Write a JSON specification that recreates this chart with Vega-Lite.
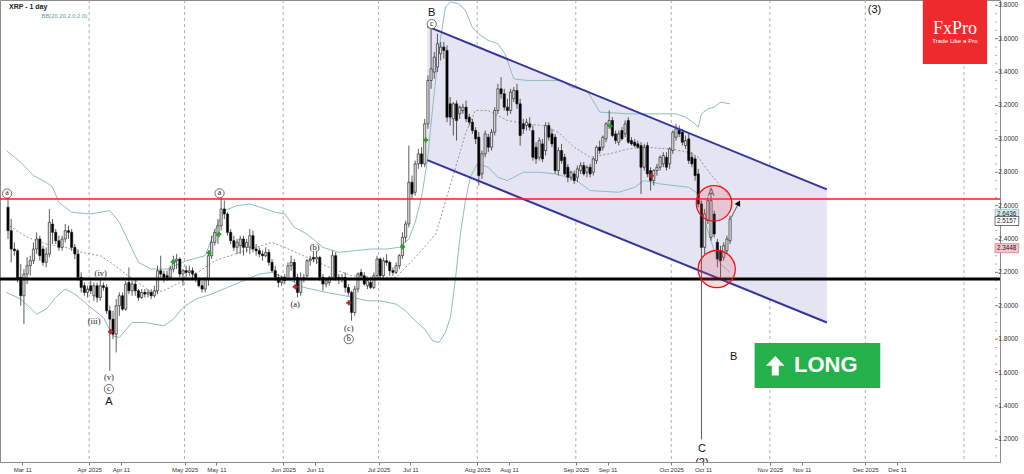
{
"$schema":"https://vega.github.io/schema/vega-lite/v6.json",
"width":1000,"height":462,
"autosize":{"type":"none"},
"padding":{"left":0,"top":0,"right":24,"bottom":12},
"background":"#ffffff",
"config":{"font":"Liberation Sans","view":{"stroke":"#8c8c8c","strokeWidth":1}},
"datasets":{
"k":[
{"d":"2025-03-06T12:00","o":2.59,"h":2.66,"l":2.40,"c":2.45},
{"d":"2025-03-07T12:00","o":2.45,"h":2.52,"l":2.26,"c":2.34},
{"d":"2025-03-08T12:00","o":2.34,"h":2.38,"l":2.30,"c":2.33},
{"d":"2025-03-09T12:00","o":2.33,"h":2.34,"l":2.14,"c":2.16},
{"d":"2025-03-10T12:00","o":2.17,"h":2.25,"l":2.00,"c":2.06},
{"d":"2025-03-11T12:00","o":2.06,"h":2.22,"l":1.89,"c":2.19},
{"d":"2025-03-12T12:00","o":2.19,"h":2.29,"l":2.13,"c":2.24},
{"d":"2025-03-13T12:00","o":2.24,"h":2.30,"l":2.18,"c":2.27},
{"d":"2025-03-14T12:00","o":2.27,"h":2.38,"l":2.25,"c":2.34},
{"d":"2025-03-15T12:00","o":2.34,"h":2.44,"l":2.31,"c":2.40},
{"d":"2025-03-16T12:00","o":2.40,"h":2.42,"l":2.27,"c":2.30},
{"d":"2025-03-17T12:00","o":2.34,"h":2.36,"l":2.24,"c":2.26},
{"d":"2025-03-18T12:00","o":2.26,"h":2.35,"l":2.23,"c":2.31},
{"d":"2025-03-19T12:00","o":2.31,"h":2.58,"l":2.29,"c":2.50},
{"d":"2025-03-20T12:00","o":2.49,"h":2.52,"l":2.37,"c":2.44},
{"d":"2025-03-21T12:00","o":2.44,"h":2.46,"l":2.37,"c":2.39},
{"d":"2025-03-22T12:00","o":2.39,"h":2.42,"l":2.33,"c":2.35},
{"d":"2025-03-23T12:00","o":2.35,"h":2.42,"l":2.33,"c":2.40},
{"d":"2025-03-24T12:00","o":2.40,"h":2.49,"l":2.38,"c":2.45},
{"d":"2025-03-25T12:00","o":2.45,"h":2.48,"l":2.40,"c":2.44},
{"d":"2025-03-26T12:00","o":2.44,"h":2.46,"l":2.33,"c":2.35},
{"d":"2025-03-27T12:00","o":2.35,"h":2.37,"l":2.28,"c":2.31},
{"d":"2025-03-28T12:00","o":2.31,"h":2.34,"l":2.15,"c":2.17},
{"d":"2025-03-29T12:00","o":2.17,"h":2.20,"l":2.08,"c":2.11},
{"d":"2025-03-30T12:00","o":2.12,"h":2.14,"l":2.06,"c":2.08},
{"d":"2025-03-31T12:00","o":2.08,"h":2.12,"l":2.05,"c":2.10},
{"d":"2025-04-01T12:00","o":2.12,"h":2.15,"l":2.07,"c":2.09},
{"d":"2025-04-02T12:00","o":2.06,"h":2.14,"l":2.03,"c":2.12},
{"d":"2025-04-03T12:00","o":2.12,"h":2.14,"l":2.02,"c":2.05},
{"d":"2025-04-04T12:00","o":2.05,"h":2.16,"l":2.03,"c":2.12},
{"d":"2025-04-05T12:00","o":2.12,"h":2.14,"l":2.09,"c":2.11},
{"d":"2025-04-06T12:00","o":2.11,"h":2.13,"l":1.95,"c":1.97},
{"d":"2025-04-07T12:00","o":1.97,"h":2.00,"l":1.61,"c":1.92},
{"d":"2025-04-08T12:00","o":1.92,"h":1.97,"l":1.80,"c":1.83},
{"d":"2025-04-09T12:00","o":1.83,"h":2.04,"l":1.72,"c":2.00},
{"d":"2025-04-10T12:00","o":2.00,"h":2.08,"l":1.94,"c":2.06},
{"d":"2025-04-11T12:00","o":2.06,"h":2.08,"l":1.97,"c":1.98},
{"d":"2025-04-12T12:00","o":1.98,"h":2.15,"l":1.97,"c":2.13},
{"d":"2025-04-13T12:00","o":2.14,"h":2.23,"l":2.07,"c":2.09},
{"d":"2025-04-14T12:00","o":2.09,"h":2.15,"l":2.06,"c":2.13},
{"d":"2025-04-15T12:00","o":2.13,"h":2.16,"l":2.06,"c":2.09},
{"d":"2025-04-16T12:00","o":2.09,"h":2.10,"l":2.03,"c":2.05},
{"d":"2025-04-17T12:00","o":2.05,"h":2.10,"l":2.04,"c":2.08},
{"d":"2025-04-18T12:00","o":2.08,"h":2.10,"l":2.05,"c":2.07},
{"d":"2025-04-19T12:00","o":2.07,"h":2.10,"l":2.05,"c":2.08},
{"d":"2025-04-20T12:00","o":2.08,"h":2.10,"l":2.04,"c":2.06},
{"d":"2025-04-21T12:00","o":2.06,"h":2.12,"l":2.05,"c":2.09},
{"d":"2025-04-22T12:00","o":2.09,"h":2.24,"l":2.07,"c":2.21},
{"d":"2025-04-23T12:00","o":2.21,"h":2.30,"l":2.17,"c":2.19},
{"d":"2025-04-24T12:00","o":2.19,"h":2.21,"l":2.14,"c":2.17},
{"d":"2025-04-25T12:00","o":2.18,"h":2.21,"l":2.15,"c":2.17},
{"d":"2025-04-26T12:00","o":2.17,"h":2.24,"l":2.16,"c":2.22},
{"d":"2025-04-27T12:00","o":2.22,"h":2.30,"l":2.20,"c":2.27},
{"d":"2025-04-28T12:00","o":2.27,"h":2.31,"l":2.22,"c":2.28},
{"d":"2025-04-29T12:00","o":2.28,"h":2.29,"l":2.17,"c":2.19},
{"d":"2025-04-30T12:00","o":2.19,"h":2.22,"l":2.12,"c":2.21},
{"d":"2025-05-01T12:00","o":2.21,"h":2.24,"l":2.17,"c":2.20},
{"d":"2025-05-02T12:00","o":2.20,"h":2.24,"l":2.18,"c":2.21},
{"d":"2025-05-03T12:00","o":2.21,"h":2.23,"l":2.16,"c":2.19},
{"d":"2025-05-04T12:00","o":2.19,"h":2.20,"l":2.14,"c":2.16},
{"d":"2025-05-05T12:00","o":2.16,"h":2.17,"l":2.11,"c":2.12},
{"d":"2025-05-06T12:00","o":2.12,"h":2.15,"l":2.08,"c":2.10},
{"d":"2025-05-07T12:00","o":2.10,"h":2.17,"l":2.08,"c":2.16},
{"d":"2025-05-08T12:00","o":2.16,"h":2.32,"l":2.12,"c":2.30},
{"d":"2025-05-09T12:00","o":2.30,"h":2.42,"l":2.28,"c":2.38},
{"d":"2025-05-10T12:00","o":2.38,"h":2.46,"l":2.36,"c":2.44},
{"d":"2025-05-11T12:00","o":2.42,"h":2.52,"l":2.37,"c":2.48},
{"d":"2025-05-12T12:00","o":2.48,"h":2.65,"l":2.45,"c":2.58},
{"d":"2025-05-13T12:00","o":2.58,"h":2.63,"l":2.52,"c":2.55},
{"d":"2025-05-14T12:00","o":2.55,"h":2.56,"l":2.42,"c":2.44},
{"d":"2025-05-15T12:00","o":2.44,"h":2.46,"l":2.37,"c":2.39},
{"d":"2025-05-16T12:00","o":2.39,"h":2.42,"l":2.33,"c":2.35},
{"d":"2025-05-17T12:00","o":2.35,"h":2.40,"l":2.31,"c":2.38},
{"d":"2025-05-18T12:00","o":2.36,"h":2.42,"l":2.31,"c":2.40},
{"d":"2025-05-19T12:00","o":2.40,"h":2.42,"l":2.30,"c":2.35},
{"d":"2025-05-20T12:00","o":2.35,"h":2.40,"l":2.32,"c":2.38},
{"d":"2025-05-21T12:00","o":2.35,"h":2.46,"l":2.31,"c":2.42},
{"d":"2025-05-22T12:00","o":2.42,"h":2.45,"l":2.32,"c":2.34},
{"d":"2025-05-23T12:00","o":2.34,"h":2.37,"l":2.30,"c":2.33},
{"d":"2025-05-24T12:00","o":2.33,"h":2.35,"l":2.29,"c":2.31},
{"d":"2025-05-25T12:00","o":2.31,"h":2.33,"l":2.27,"c":2.30},
{"d":"2025-05-26T12:00","o":2.30,"h":2.35,"l":2.29,"c":2.32},
{"d":"2025-05-27T12:00","o":2.32,"h":2.34,"l":2.24,"c":2.26},
{"d":"2025-05-28T12:00","o":2.26,"h":2.28,"l":2.20,"c":2.21},
{"d":"2025-05-29T12:00","o":2.21,"h":2.24,"l":2.15,"c":2.17},
{"d":"2025-05-30T12:00","o":2.17,"h":2.19,"l":2.11,"c":2.14},
{"d":"2025-05-31T12:00","o":2.14,"h":2.18,"l":2.12,"c":2.17},
{"d":"2025-06-01T12:00","o":2.17,"h":2.19,"l":2.13,"c":2.15},
{"d":"2025-06-02T12:00","o":2.16,"h":2.26,"l":2.15,"c":2.24},
{"d":"2025-06-03T12:00","o":2.24,"h":2.30,"l":2.21,"c":2.26},
{"d":"2025-06-04T12:00","o":2.26,"h":2.28,"l":2.14,"c":2.17},
{"d":"2025-06-05T12:00","o":2.17,"h":2.19,"l":2.05,"c":2.08},
{"d":"2025-06-06T12:00","o":2.08,"h":2.20,"l":2.06,"c":2.16},
{"d":"2025-06-07T12:00","o":2.16,"h":2.19,"l":2.14,"c":2.17},
{"d":"2025-06-08T12:00","o":2.18,"h":2.28,"l":2.16,"c":2.27},
{"d":"2025-06-09T12:00","o":2.27,"h":2.30,"l":2.24,"c":2.28},
{"d":"2025-06-10T12:00","o":2.29,"h":2.33,"l":2.26,"c":2.28},
{"d":"2025-06-11T12:00","o":2.28,"h":2.33,"l":2.25,"c":2.29},
{"d":"2025-06-12T12:00","o":2.29,"h":2.30,"l":2.15,"c":2.17},
{"d":"2025-06-13T12:00","o":2.17,"h":2.19,"l":2.09,"c":2.13},
{"d":"2025-06-14T12:00","o":2.13,"h":2.17,"l":2.11,"c":2.15},
{"d":"2025-06-15T12:00","o":2.14,"h":2.18,"l":2.12,"c":2.17},
{"d":"2025-06-16T12:00","o":2.17,"h":2.33,"l":2.16,"c":2.30},
{"d":"2025-06-17T12:00","o":2.30,"h":2.32,"l":2.15,"c":2.17},
{"d":"2025-06-18T12:00","o":2.17,"h":2.19,"l":2.13,"c":2.16},
{"d":"2025-06-19T12:00","o":2.16,"h":2.19,"l":2.14,"c":2.17},
{"d":"2025-06-20T12:00","o":2.17,"h":2.20,"l":2.08,"c":2.11},
{"d":"2025-06-21T12:00","o":2.11,"h":2.13,"l":2.06,"c":2.08},
{"d":"2025-06-22T12:00","o":2.08,"h":2.09,"l":1.91,"c":1.96},
{"d":"2025-06-23T12:00","o":1.96,"h":2.12,"l":1.94,"c":2.10},
{"d":"2025-06-24T12:00","o":2.10,"h":2.20,"l":2.08,"c":2.19},
{"d":"2025-06-25T12:00","o":2.20,"h":2.22,"l":2.16,"c":2.18},
{"d":"2025-06-26T12:00","o":2.18,"h":2.20,"l":2.12,"c":2.13},
{"d":"2025-06-27T12:00","o":2.12,"h":2.17,"l":2.10,"c":2.15},
{"d":"2025-06-28T12:00","o":2.14,"h":2.16,"l":2.10,"c":2.11},
{"d":"2025-06-29T12:00","o":2.11,"h":2.20,"l":2.10,"c":2.18},
{"d":"2025-06-30T12:00","o":2.18,"h":2.30,"l":2.16,"c":2.28},
{"d":"2025-07-01T12:00","o":2.28,"h":2.29,"l":2.16,"c":2.18},
{"d":"2025-07-02T12:00","o":2.18,"h":2.29,"l":2.17,"c":2.27},
{"d":"2025-07-03T12:00","o":2.27,"h":2.31,"l":2.24,"c":2.26},
{"d":"2025-07-04T12:00","o":2.26,"h":2.27,"l":2.18,"c":2.21},
{"d":"2025-07-05T12:00","o":2.21,"h":2.23,"l":2.18,"c":2.20},
{"d":"2025-07-06T12:00","o":2.20,"h":2.26,"l":2.19,"c":2.24},
{"d":"2025-07-07T12:00","o":2.24,"h":2.31,"l":2.22,"c":2.30},
{"d":"2025-07-08T12:00","o":2.30,"h":2.44,"l":2.28,"c":2.41},
{"d":"2025-07-09T12:00","o":2.41,"h":2.51,"l":2.38,"c":2.49},
{"d":"2025-07-10T12:00","o":2.49,"h":2.96,"l":2.47,"c":2.74},
{"d":"2025-07-11T12:00","o":2.74,"h":2.78,"l":2.64,"c":2.67},
{"d":"2025-07-12T12:00","o":2.68,"h":2.87,"l":2.66,"c":2.85},
{"d":"2025-07-13T12:00","o":2.85,"h":2.94,"l":2.82,"c":2.91},
{"d":"2025-07-14T12:00","o":2.91,"h":2.95,"l":2.83,"c":2.85},
{"d":"2025-07-15T12:00","o":2.85,"h":3.12,"l":2.83,"c":3.09},
{"d":"2025-07-16T12:00","o":3.09,"h":3.38,"l":3.06,"c":3.35},
{"d":"2025-07-17T12:00","o":3.35,"h":3.67,"l":3.30,"c":3.42},
{"d":"2025-07-18T12:00","o":3.40,"h":3.52,"l":3.36,"c":3.49},
{"d":"2025-07-19T12:00","o":3.43,"h":3.63,"l":3.40,"c":3.57},
{"d":"2025-07-20T12:00","o":3.51,"h":3.58,"l":3.47,"c":3.55},
{"d":"2025-07-21T12:00","o":3.55,"h":3.58,"l":3.48,"c":3.53},
{"d":"2025-07-22T12:00","o":3.53,"h":3.56,"l":3.10,"c":3.13},
{"d":"2025-07-23T12:00","o":3.21,"h":3.25,"l":3.08,"c":3.13},
{"d":"2025-07-24T12:00","o":3.12,"h":3.22,"l":3.02,"c":3.21},
{"d":"2025-07-25T12:00","o":3.21,"h":3.23,"l":2.99,"c":3.11},
{"d":"2025-07-26T12:00","o":3.15,"h":3.20,"l":3.12,"c":3.19},
{"d":"2025-07-27T12:00","o":3.17,"h":3.21,"l":3.15,"c":3.19},
{"d":"2025-07-28T12:00","o":3.19,"h":3.23,"l":3.10,"c":3.12},
{"d":"2025-07-29T12:00","o":3.13,"h":3.15,"l":3.08,"c":3.10},
{"d":"2025-07-30T12:00","o":3.10,"h":3.12,"l":3.03,"c":3.05},
{"d":"2025-07-31T12:00","o":3.05,"h":3.07,"l":2.97,"c":3.00},
{"d":"2025-08-01T12:00","o":3.01,"h":3.04,"l":2.72,"c":2.78},
{"d":"2025-08-02T12:00","o":2.79,"h":2.93,"l":2.76,"c":2.91},
{"d":"2025-08-03T12:00","o":2.91,"h":3.05,"l":2.89,"c":3.03},
{"d":"2025-08-04T12:00","o":3.01,"h":3.03,"l":2.92,"c":2.95},
{"d":"2025-08-05T12:00","o":2.95,"h":3.06,"l":2.93,"c":3.04},
{"d":"2025-08-06T12:00","o":3.04,"h":3.19,"l":3.02,"c":3.17},
{"d":"2025-08-07T12:00","o":3.17,"h":3.33,"l":3.15,"c":3.30},
{"d":"2025-08-08T12:00","o":3.30,"h":3.37,"l":3.24,"c":3.27},
{"d":"2025-08-09T12:00","o":3.27,"h":3.30,"l":3.17,"c":3.19},
{"d":"2025-08-10T12:00","o":3.19,"h":3.24,"l":3.14,"c":3.17},
{"d":"2025-08-11T12:00","o":3.17,"h":3.30,"l":3.15,"c":3.28},
{"d":"2025-08-12T12:00","o":3.24,"h":3.31,"l":3.22,"c":3.29},
{"d":"2025-08-13T12:00","o":3.29,"h":3.33,"l":3.18,"c":3.21},
{"d":"2025-08-14T12:00","o":3.21,"h":3.24,"l":2.96,"c":3.02},
{"d":"2025-08-15T12:00","o":3.09,"h":3.12,"l":3.03,"c":3.06},
{"d":"2025-08-16T12:00","o":3.08,"h":3.12,"l":3.05,"c":3.10},
{"d":"2025-08-17T12:00","o":3.09,"h":3.13,"l":3.05,"c":3.07},
{"d":"2025-08-18T12:00","o":3.05,"h":3.08,"l":2.87,"c":2.89},
{"d":"2025-08-19T12:00","o":2.95,"h":2.98,"l":2.85,"c":2.88},
{"d":"2025-08-20T12:00","o":2.89,"h":3.01,"l":2.87,"c":2.99},
{"d":"2025-08-21T12:00","o":2.97,"h":3.00,"l":2.86,"c":2.88},
{"d":"2025-08-22T12:00","o":2.93,"h":3.10,"l":2.90,"c":3.08},
{"d":"2025-08-23T12:00","o":3.08,"h":3.10,"l":2.99,"c":3.01},
{"d":"2025-08-24T12:00","o":3.03,"h":3.06,"l":2.95,"c":2.97},
{"d":"2025-08-25T12:00","o":3.01,"h":3.03,"l":2.79,"c":2.81},
{"d":"2025-08-26T12:00","o":2.81,"h":2.95,"l":2.78,"c":2.93},
{"d":"2025-08-27T12:00","o":2.93,"h":2.97,"l":2.85,"c":2.87},
{"d":"2025-08-28T12:00","o":2.89,"h":2.91,"l":2.78,"c":2.79},
{"d":"2025-08-29T12:00","o":2.83,"h":2.85,"l":2.74,"c":2.77},
{"d":"2025-08-30T12:00","o":2.77,"h":2.81,"l":2.75,"c":2.80},
{"d":"2025-08-31T12:00","o":2.79,"h":2.81,"l":2.73,"c":2.75},
{"d":"2025-09-01T12:00","o":2.77,"h":2.84,"l":2.74,"c":2.82},
{"d":"2025-09-02T12:00","o":2.81,"h":2.86,"l":2.79,"c":2.84},
{"d":"2025-09-03T12:00","o":2.84,"h":2.86,"l":2.78,"c":2.79},
{"d":"2025-09-04T12:00","o":2.80,"h":2.84,"l":2.77,"c":2.83},
{"d":"2025-09-05T12:00","o":2.83,"h":2.85,"l":2.77,"c":2.79},
{"d":"2025-09-06T12:00","o":2.80,"h":2.89,"l":2.78,"c":2.88},
{"d":"2025-09-07T12:00","o":2.87,"h":2.96,"l":2.85,"c":2.95},
{"d":"2025-09-08T12:00","o":2.95,"h":2.99,"l":2.91,"c":2.93},
{"d":"2025-09-09T12:00","o":2.95,"h":3.02,"l":2.93,"c":3.01},
{"d":"2025-09-10T12:00","o":3.00,"h":3.10,"l":2.98,"c":3.09},
{"d":"2025-09-11T12:00","o":3.08,"h":3.17,"l":3.06,"c":3.11},
{"d":"2025-09-12T12:00","o":3.11,"h":3.13,"l":3.01,"c":3.02},
{"d":"2025-09-13T12:00","o":3.03,"h":3.05,"l":2.97,"c":2.99},
{"d":"2025-09-14T12:00","o":2.98,"h":3.05,"l":2.96,"c":3.03},
{"d":"2025-09-15T12:00","o":3.05,"h":3.07,"l":2.99,"c":3.00},
{"d":"2025-09-16T12:00","o":3.03,"h":3.11,"l":3.01,"c":3.09},
{"d":"2025-09-17T12:00","o":3.11,"h":3.13,"l":2.97,"c":2.98},
{"d":"2025-09-18T12:00","o":2.99,"h":3.01,"l":2.96,"c":2.97},
{"d":"2025-09-19T12:00","o":2.98,"h":3.00,"l":2.95,"c":2.96},
{"d":"2025-09-20T12:00","o":2.97,"h":2.99,"l":2.94,"c":2.95},
{"d":"2025-09-21T12:00","o":2.96,"h":2.98,"l":2.67,"c":2.83},
{"d":"2025-09-22T12:00","o":2.83,"h":2.97,"l":2.81,"c":2.95},
{"d":"2025-09-23T12:00","o":2.96,"h":2.98,"l":2.77,"c":2.79},
{"d":"2025-09-24T12:00","o":2.81,"h":2.83,"l":2.69,"c":2.75},
{"d":"2025-09-25T12:00","o":2.75,"h":2.82,"l":2.72,"c":2.81},
{"d":"2025-09-26T12:00","o":2.81,"h":2.85,"l":2.78,"c":2.83},
{"d":"2025-09-27T12:00","o":2.83,"h":2.90,"l":2.81,"c":2.89},
{"d":"2025-09-28T12:00","o":2.85,"h":2.92,"l":2.83,"c":2.90},
{"d":"2025-09-29T12:00","o":2.89,"h":2.92,"l":2.81,"c":2.83},
{"d":"2025-09-30T12:00","o":2.85,"h":2.95,"l":2.82,"c":2.94},
{"d":"2025-10-01T12:00","o":2.93,"h":3.05,"l":2.91,"c":3.04},
{"d":"2025-10-02T12:00","o":3.01,"h":3.09,"l":2.99,"c":3.06},
{"d":"2025-10-03T12:00","o":3.05,"h":3.08,"l":3.01,"c":3.03},
{"d":"2025-10-04T12:00","o":3.04,"h":3.06,"l":2.96,"c":2.98},
{"d":"2025-10-05T12:00","o":2.96,"h":3.02,"l":2.94,"c":2.99},
{"d":"2025-10-06T12:00","o":3.00,"h":3.03,"l":2.85,"c":2.87},
{"d":"2025-10-07T12:00","o":2.89,"h":2.92,"l":2.83,"c":2.85},
{"d":"2025-10-08T12:00","o":2.88,"h":2.90,"l":2.75,"c":2.78},
{"d":"2025-10-09T12:00","o":2.79,"h":2.82,"l":2.59,"c":2.61},
{"d":"2025-10-10T12:00","o":2.61,"h":2.63,"l":1.20,"c":2.35},
{"d":"2025-10-11T12:00","o":2.35,"h":2.58,"l":2.31,"c":2.55},
{"d":"2025-10-12T12:00","o":2.51,"h":2.65,"l":2.49,"c":2.63},
{"d":"2025-10-13T12:00","o":2.41,"h":2.68,"l":2.39,"c":2.63},
{"d":"2025-10-14T12:00","o":2.55,"h":2.57,"l":2.41,"c":2.43},
{"d":"2025-10-15T12:00","o":2.38,"h":2.40,"l":2.23,"c":2.28},
{"d":"2025-10-16T12:00","o":2.33,"h":2.36,"l":2.17,"c":2.27},
{"d":"2025-10-17T12:00","o":2.29,"h":2.38,"l":2.27,"c":2.36},
{"d":"2025-10-18T12:00","o":2.33,"h":2.42,"l":2.31,"c":2.40},
{"d":"2025-10-19T12:00","o":2.39,"h":2.54,"l":2.37,"c":2.52}
],
"bb":[
{"d":"2025-03-06T00:00","b":"u","v":2.93},{"d":"2025-03-10T12:00","b":"u","v":2.86},{"d":"2025-03-14T12:00","b":"u","v":2.78},{"d":"2025-03-18T12:00","b":"u","v":2.74},{"d":"2025-03-20T12:00","b":"u","v":2.71},{"d":"2025-03-22T12:00","b":"u","v":2.62},{"d":"2025-03-26T12:00","b":"u","v":2.56},{"d":"2025-04-01T12:00","b":"u","v":2.55},{"d":"2025-04-07T12:00","b":"u","v":2.57},{"d":"2025-04-10T12:00","b":"u","v":2.50},{"d":"2025-04-13T12:00","b":"u","v":2.38},{"d":"2025-04-16T12:00","b":"u","v":2.26},{"d":"2025-04-20T12:00","b":"u","v":2.22},{"d":"2025-04-25T12:00","b":"u","v":2.22},{"d":"2025-05-01T12:00","b":"u","v":2.27},{"d":"2025-05-07T12:00","b":"u","v":2.30},{"d":"2025-05-10T12:00","b":"u","v":2.45},{"d":"2025-05-13T12:00","b":"u","v":2.57},{"d":"2025-05-17T12:00","b":"u","v":2.60},{"d":"2025-05-21T12:00","b":"u","v":2.61},{"d":"2025-05-26T12:00","b":"u","v":2.58},{"d":"2025-05-29T12:00","b":"u","v":2.56},{"d":"2025-06-01T12:00","b":"u","v":2.55},{"d":"2025-06-04T12:00","b":"u","v":2.47},{"d":"2025-06-08T12:00","b":"u","v":2.43},{"d":"2025-06-13T12:00","b":"u","v":2.35},{"d":"2025-06-18T12:00","b":"u","v":2.32},{"d":"2025-06-23T12:00","b":"u","v":2.33},{"d":"2025-06-28T12:00","b":"u","v":2.34},{"d":"2025-07-03T12:00","b":"u","v":2.34},{"d":"2025-07-07T12:00","b":"u","v":2.35},{"d":"2025-07-10T12:00","b":"u","v":2.40},{"d":"2025-07-12T12:00","b":"u","v":2.50},{"d":"2025-07-14T12:00","b":"u","v":2.65},{"d":"2025-07-16T08:00","b":"u","v":2.87},{"d":"2025-07-17T22:00","b":"u","v":3.17},{"d":"2025-07-19T22:00","b":"u","v":3.53},{"d":"2025-07-22T00:00","b":"u","v":3.79},{"d":"2025-07-23T14:00","b":"u","v":3.82},{"d":"2025-07-26T02:00","b":"u","v":3.81},{"d":"2025-07-28T07:00","b":"u","v":3.77},{"d":"2025-07-30T10:00","b":"u","v":3.67},{"d":"2025-08-01T08:00","b":"u","v":3.63},{"d":"2025-08-04T10:00","b":"u","v":3.59},{"d":"2025-08-07T12:00","b":"u","v":3.57},{"d":"2025-08-09T17:00","b":"u","v":3.51},{"d":"2025-08-12T12:00","b":"u","v":3.36},{"d":"2025-08-16T12:00","b":"u","v":3.35},{"d":"2025-08-27T12:00","b":"u","v":3.35},{"d":"2025-08-30T12:00","b":"u","v":3.31},{"d":"2025-09-04T12:00","b":"u","v":3.29},{"d":"2025-09-08T12:00","b":"u","v":3.16},{"d":"2025-09-17T12:00","b":"u","v":3.15},{"d":"2025-10-02T12:00","b":"u","v":3.15},{"d":"2025-10-05T12:00","b":"u","v":3.13},{"d":"2025-10-08T12:00","b":"u","v":3.09},{"d":"2025-10-09T12:00","b":"u","v":3.07},{"d":"2025-10-10T12:00","b":"u","v":3.15},{"d":"2025-10-12T12:00","b":"u","v":3.18},{"d":"2025-10-14T12:00","b":"u","v":3.19},{"d":"2025-10-16T12:00","b":"u","v":3.22},{"d":"2025-10-19T12:00","b":"u","v":3.21},
{"d":"2025-03-06T00:00","b":"m","v":2.49},{"d":"2025-03-12T12:00","b":"m","v":2.41},{"d":"2025-03-18T12:00","b":"m","v":2.37},{"d":"2025-03-24T12:00","b":"m","v":2.35},{"d":"2025-03-29T12:00","b":"m","v":2.32},{"d":"2025-04-04T12:00","b":"m","v":2.30},{"d":"2025-04-08T12:00","b":"m","v":2.25},{"d":"2025-04-12T12:00","b":"m","v":2.19},{"d":"2025-04-16T12:00","b":"m","v":2.14},{"d":"2025-04-20T12:00","b":"m","v":2.08},{"d":"2025-04-24T12:00","b":"m","v":2.09},{"d":"2025-04-29T12:00","b":"m","v":2.14},{"d":"2025-05-04T12:00","b":"m","v":2.19},{"d":"2025-05-10T12:00","b":"m","v":2.27},{"d":"2025-05-18T12:00","b":"m","v":2.32},{"d":"2025-05-28T12:00","b":"m","v":2.38},{"d":"2025-06-01T12:00","b":"m","v":2.35},{"d":"2025-06-08T12:00","b":"m","v":2.29},{"d":"2025-06-15T12:00","b":"m","v":2.23},{"d":"2025-06-22T12:00","b":"m","v":2.18},{"d":"2025-06-29T12:00","b":"m","v":2.17},{"d":"2025-07-06T12:00","b":"m","v":2.17},{"d":"2025-07-12T12:00","b":"m","v":2.29},{"d":"2025-07-19T00:00","b":"m","v":2.43},{"d":"2025-07-25T05:00","b":"m","v":2.83},{"d":"2025-07-28T07:00","b":"m","v":3.03},{"d":"2025-07-31T10:00","b":"m","v":3.17},{"d":"2025-08-04T10:00","b":"m","v":3.17},{"d":"2025-08-10T12:00","b":"m","v":3.11},{"d":"2025-08-16T12:00","b":"m","v":3.09},{"d":"2025-08-21T12:00","b":"m","v":3.08},{"d":"2025-08-26T12:00","b":"m","v":3.04},{"d":"2025-08-31T12:00","b":"m","v":2.95},{"d":"2025-09-05T12:00","b":"m","v":2.89},{"d":"2025-09-11T12:00","b":"m","v":2.91},{"d":"2025-09-17T12:00","b":"m","v":2.94},{"d":"2025-09-22T12:00","b":"m","v":2.95},{"d":"2025-09-30T12:00","b":"m","v":2.94},{"d":"2025-10-06T12:00","b":"m","v":2.92},{"d":"2025-10-09T12:00","b":"m","v":2.89},{"d":"2025-10-12T12:00","b":"m","v":2.81},{"d":"2025-10-15T12:00","b":"m","v":2.74},{"d":"2025-10-19T12:00","b":"m","v":2.65},
{"d":"2025-03-06T00:00","b":"l","v":2.08},{"d":"2025-03-10T12:00","b":"l","v":2.04},{"d":"2025-03-15T12:00","b":"l","v":1.95},{"d":"2025-03-18T12:00","b":"l","v":1.98},{"d":"2025-03-21T12:00","b":"l","v":2.05},{"d":"2025-03-24T12:00","b":"l","v":2.10},{"d":"2025-03-27T12:00","b":"l","v":2.07},{"d":"2025-04-01T12:00","b":"l","v":1.99},{"d":"2025-04-05T12:00","b":"l","v":1.93},{"d":"2025-04-08T12:00","b":"l","v":1.82},{"d":"2025-04-10T12:00","b":"l","v":1.81},{"d":"2025-04-14T12:00","b":"l","v":1.90},{"d":"2025-04-18T12:00","b":"l","v":1.90},{"d":"2025-04-24T12:00","b":"l","v":1.88},{"d":"2025-04-27T12:00","b":"l","v":1.92},{"d":"2025-04-30T12:00","b":"l","v":1.99},{"d":"2025-05-04T12:00","b":"l","v":2.04},{"d":"2025-05-09T12:00","b":"l","v":2.07},{"d":"2025-05-14T12:00","b":"l","v":2.11},{"d":"2025-05-19T12:00","b":"l","v":2.15},{"d":"2025-05-24T12:00","b":"l","v":2.19},{"d":"2025-05-28T12:00","b":"l","v":2.20},{"d":"2025-06-02T12:00","b":"l","v":2.16},{"d":"2025-06-07T12:00","b":"l","v":2.11},{"d":"2025-06-14T12:00","b":"l","v":2.08},{"d":"2025-06-20T12:00","b":"l","v":2.06},{"d":"2025-06-27T12:00","b":"l","v":2.03},{"d":"2025-07-01T12:00","b":"l","v":2.03},{"d":"2025-07-06T12:00","b":"l","v":2.01},{"d":"2025-07-09T12:00","b":"l","v":1.97},{"d":"2025-07-12T12:00","b":"l","v":1.91},{"d":"2025-07-15T12:00","b":"l","v":1.86},{"d":"2025-07-18T00:00","b":"l","v":1.79},{"d":"2025-07-20T00:00","b":"l","v":1.78},{"d":"2025-07-22T00:00","b":"l","v":1.84},{"d":"2025-07-23T14:00","b":"l","v":1.93},{"d":"2025-07-25T05:00","b":"l","v":2.17},{"d":"2025-07-26T17:00","b":"l","v":2.43},{"d":"2025-07-28T07:00","b":"l","v":2.63},{"d":"2025-07-29T20:00","b":"l","v":2.77},{"d":"2025-08-01T00:00","b":"l","v":2.85},{"d":"2025-08-04T10:00","b":"l","v":2.83},{"d":"2025-08-07T12:00","b":"l","v":2.77},{"d":"2025-08-10T12:00","b":"l","v":2.75},{"d":"2025-08-15T12:00","b":"l","v":2.80},{"d":"2025-08-20T12:00","b":"l","v":2.80},{"d":"2025-08-25T12:00","b":"l","v":2.79},{"d":"2025-08-31T12:00","b":"l","v":2.76},{"d":"2025-09-05T12:00","b":"l","v":2.69},{"d":"2025-09-14T12:00","b":"l","v":2.68},{"d":"2025-09-19T12:00","b":"l","v":2.71},{"d":"2025-09-22T12:00","b":"l","v":2.75},{"d":"2025-09-27T12:00","b":"l","v":2.73},{"d":"2025-10-06T12:00","b":"l","v":2.71},{"d":"2025-10-09T12:00","b":"l","v":2.67},{"d":"2025-10-11T00:00","b":"l","v":2.55},{"d":"2025-10-12T12:00","b":"l","v":2.45},{"d":"2025-10-14T12:00","b":"l","v":2.33},{"d":"2025-10-16T12:00","b":"l","v":2.25},{"d":"2025-10-19T12:00","b":"l","v":2.20}
],
"yt":[{"v":1.2},{"v":1.4},{"v":1.6},{"v":1.8},{"v":2.0},{"v":2.2},{"v":2.4},{"v":2.6},{"v":2.8},{"v":3.0},{"v":3.2},{"v":3.4},{"v":3.6},{"v":3.8}],
"ym":[{"v":1.1},{"v":1.15},{"v":1.25},{"v":1.3},{"v":1.35},{"v":1.45},{"v":1.5},{"v":1.55},{"v":1.65},{"v":1.7},{"v":1.75},{"v":1.85},{"v":1.9},{"v":1.95},{"v":2.05},{"v":2.1},{"v":2.15},{"v":2.25},{"v":2.3},{"v":2.35},{"v":2.45},{"v":2.5},{"v":2.55},{"v":2.65},{"v":2.7},{"v":2.75},{"v":2.85},{"v":2.9},{"v":2.95},{"v":3.05},{"v":3.1},{"v":3.15},{"v":3.25},{"v":3.3},{"v":3.35},{"v":3.45},{"v":3.5},{"v":3.55},{"v":3.65},{"v":3.7},{"v":3.75}]
},
"layer":[
{"data":{"name":"k"},
 "mark":{"type":"rule","opacity":0},
 "encoding":{"x":{"field":"d","type":"temporal","scale":{"domain":[{"year":2025,"month":3,"date":5,"hours":13,"minutes":12},{"year":2026,"month":1,"date":10,"hours":18,"minutes":43}]},
   "axis":{"orient":"bottom","title":null,"grid":false,"values":[{"year":2025,"month":3,"date":11},{"year":2025,"month":4,"date":1},{"year":2025,"month":4,"date":11},{"year":2025,"month":5,"date":1},{"year":2025,"month":5,"date":11},{"year":2025,"month":6,"date":1},{"year":2025,"month":6,"date":11},{"year":2025,"month":7,"date":1},{"year":2025,"month":7,"date":11},{"year":2025,"month":8,"date":1},{"year":2025,"month":8,"date":11},{"year":2025,"month":9,"date":1},{"year":2025,"month":9,"date":11},{"year":2025,"month":10,"date":1},{"year":2025,"month":10,"date":11},{"year":2025,"month":11,"date":1},{"year":2025,"month":11,"date":11},{"year":2025,"month":12,"date":1},{"year":2025,"month":12,"date":11}],
   "labelExpr":"date(datum.value) == 1 ? timeFormat(datum.value, '%b %Y') : timeFormat(datum.value, '%b %d')","labelFontSize":6,"labelColor":"#333333","tickSize":3,"tickColor":"#777777","domainColor":"#8c8c8c","labelPadding":1,"labelOverlap":false,"labelFlush":false}},
  "y":{"field":"l","type":"quantitative","scale":{"domain":[1.064,3.832],"zero":false,"nice":false},
   "axis":{"orient":"right","title":null,"grid":false,"labels":false,"ticks":false,"domain":false}},
  "y2":{"field":"h"}}},
{"data":{"name":"yt"},
 "mark":{"type":"rule","stroke":"#777777","strokeWidth":1},
 "encoding":{"x":{"datum":{"year":2026,"month":1,"date":10,"hours":18,"minutes":43},"type":"temporal"},"x2":{"datum":{"year":2026,"month":1,"date":11,"hours":16,"minutes":40}},"y":{"field":"v","type":"quantitative"}}},
{"data":{"name":"ym"},
 "mark":{"type":"rule","stroke":"#999999","strokeWidth":0.8},
 "encoding":{"x":{"datum":{"year":2026,"month":1,"date":10,"hours":18,"minutes":43},"type":"temporal"},"x2":{"datum":{"year":2026,"month":1,"date":11,"hours":9,"minutes":0}},"y":{"field":"v","type":"quantitative"}}},
{"data":{"name":"yt"},
 "mark":{"type":"text","fontSize":6.5,"fill":"#333333","baseline":"middle","align":"left"},
 "encoding":{"x":{"datum":{"year":2026,"month":1,"date":11,"hours":20,"minutes":0},"type":"temporal"},"y":{"field":"v","type":"quantitative"},"text":{"field":"v","type":"quantitative","format":".4f"}}},
{"data":{"values":[{"d":"2025-04-01T00:00"},{"d":"2025-05-01T00:00"},{"d":"2025-06-01T00:00"},{"d":"2025-07-01T00:00"},{"d":"2025-08-01T00:00"},{"d":"2025-09-01T00:00"},{"d":"2025-10-01T00:00"},{"d":"2025-11-01T00:00"},{"d":"2025-12-01T00:00"},{"d":"2026-01-01T00:00"}]},
 "mark":{"type":"rule","stroke":"#9a9a9a","strokeWidth":0.8,"strokeDash":[3,3]},
 "encoding":{"x":{"field":"d","type":"temporal"}}},
{"data":{"values":[{"d":"2025-07-16T08:00","a":3.674,"b":2.873},{"d":"2025-11-18T22:00","a":2.697,"b":1.90}]},
 "mark":{"type":"area","fill":"#e4e4f3","opacity":1},
 "encoding":{"x":{"field":"d","type":"temporal"},"y":{"field":"a","type":"quantitative"},"y2":{"field":"b"}}},
{"data":{"name":"bb"},"transform":[{"filter":"datum.b != 'm'"}],
 "mark":{"type":"line","stroke":"#8fbdbd","strokeWidth":1,"clip":true},
 "encoding":{"x":{"field":"d","type":"temporal"},"y":{"field":"v","type":"quantitative"},"detail":{"field":"b"}}},
{"data":{"name":"bb"},"transform":[{"filter":"datum.b == 'm'"}],
 "mark":{"type":"line","stroke":"#8a8a8a","strokeWidth":0.9,"strokeDash":[2,2],"clip":true},
 "encoding":{"x":{"field":"d","type":"temporal"},"y":{"field":"v","type":"quantitative"}}},
{"data":{"name":"k"},
 "mark":{"type":"rule","stroke":"#333333","strokeWidth":0.8,"clip":true},
 "encoding":{"x":{"field":"d","type":"temporal"},"y":{"field":"l","type":"quantitative"},"y2":{"field":"h"}}},
{"data":{"name":"k"},
 "mark":{"type":"bar","width":2.2,"stroke":"#111111","strokeWidth":0.6,"clip":true},
 "encoding":{"x":{"field":"d","type":"temporal"},"y":{"field":"o","type":"quantitative"},"y2":{"field":"c"},
  "fill":{"condition":{"test":"datum.c >= datum.o","value":"#e2e2e2"},"value":"#000000"}}},
{"data":{"values":[{"d1":"2025-07-16T08:00","p1":3.674,"d2":"2025-11-18T22:00","p2":2.697},{"d1":"2025-07-16T08:00","p1":2.873,"d2":"2025-11-18T22:00","p2":1.90}]},
 "mark":{"type":"rule","stroke":"#34349c","strokeWidth":2},
 "encoding":{"x":{"field":"d1","type":"temporal"},"x2":{"field":"d2"},"y":{"field":"p1","type":"quantitative"},"y2":{"field":"p2"}}},
{"data":{"values":[{"p":2.64}]},
 "mark":{"type":"rule","stroke":"#ff1a1a","strokeWidth":1.5},
 "encoding":{"y":{"field":"p","type":"quantitative"}}},
{"data":{"values":[{"p":2.16}]},
 "mark":{"type":"rule","stroke":"#000000","strokeWidth":3},
 "encoding":{"y":{"field":"p","type":"quantitative"}}},
{"data":{"values":[{"d":"2025-04-27T11:00","p":2.264},{"d":"2025-05-08T16:00","p":2.318},{"d":"2025-05-11T18:00","p":2.428},{"d":"2025-07-08T13:00","p":2.354},{"d":"2025-07-15T20:00","p":2.993},{"d":"2025-09-11T17:00","p":3.077}]},
 "mark":{"type":"point","shape":"cross","filled":true,"fill":"#2e9e2e","size":26,"opacity":1,"strokeWidth":0},
 "encoding":{"x":{"field":"d","type":"temporal"},"y":{"field":"p","type":"quantitative"}}},
{"data":{"values":[{"d":"2025-04-07T18:00","p":1.845},{"d":"2025-06-04T19:00","p":2.114},{"d":"2025-06-21T15:00","p":2.018},{"d":"2025-09-24T17:00","p":2.779}]},
 "mark":{"type":"point","shape":"cross","filled":true,"fill":"#b02a2a","size":26,"opacity":1,"strokeWidth":0},
 "encoding":{"x":{"field":"d","type":"temporal"},"y":{"field":"p","type":"quantitative"}}},
{"data":{"values":[{"d":"2025-03-06T04:48","p":2.672,"t":"a"},{"d":"2025-04-07T05:00","p":1.501,"t":"c"},{"d":"2025-05-12T00:00","p":2.674,"t":"a"},{"d":"2025-06-21T15:00","p":1.80,"t":"b"},{"d":"2025-07-17T17:00","p":3.688,"t":"c"}]},
 "encoding":{"x":{"field":"d","type":"temporal"},"y":{"field":"p","type":"quantitative"}},
 "layer":[
  {"mark":{"type":"point","shape":"circle","filled":true,"fill":"#ffffff","stroke":"#333333","strokeWidth":0.7,"size":85,"opacity":1}},
  {"mark":{"type":"text","font":"Liberation Serif","fontSize":8,"fill":"#222222","baseline":"middle","align":"center","dy":-0.5},"encoding":{"text":{"field":"t"}}}
 ]},
{"data":{"values":[{"d":"2025-04-02T13:30","p":1.909,"t":"(iii)"},{"d":"2025-04-04T15:20","p":2.196,"t":"(iv)"},{"d":"2025-04-07T05:00","p":1.573,"t":"(v)"},{"d":"2025-06-04T19:00","p":2.011,"t":"(a)"},{"d":"2025-06-10T22:00","p":2.354,"t":"(b)"},{"d":"2025-06-21T15:00","p":1.869,"t":"(c)"}]},
 "mark":{"type":"text","font":"Liberation Serif","fontSize":8.5,"fill":"#222222","baseline":"middle","align":"center"},
 "encoding":{"x":{"field":"d","type":"temporal"},"y":{"field":"p","type":"quantitative"},"text":{"field":"t"}}},
{"data":{"values":[{"d":"2025-04-07T05:00","p":1.424,"t":"A"},{"d":"2025-07-17T17:00","p":3.756,"t":"B"},{"d":"2025-10-10T15:30","p":1.142,"t":"C"},{"d":"2025-10-10T15:30","p":1.058,"t":"(2)"},{"d":"2025-10-20T15:00","p":1.695,"t":"B"},{"d":"2025-12-03T22:00","p":3.772,"t":"(3)"}]},
 "mark":{"type":"text","fontSize":11,"fill":"#111111","baseline":"middle","align":"center","clip":true},
 "encoding":{"x":{"field":"d","type":"temporal"},"y":{"field":"p","type":"quantitative"},"text":{"field":"t"}}},
{"data":{"values":[{"d":"2025-10-13T12:00","p":2.676,"t":"A"}]},
 "mark":{"type":"text","fontSize":10,"fill":"#555555","baseline":"middle","align":"center"},
 "encoding":{"x":{"field":"d","type":"temporal"},"y":{"field":"p","type":"quantitative"},"text":{"field":"t"}}},
{"data":{"values":[{"d":"2025-10-14T10:50","p":2.614,"s":1260},{"d":"2025-10-15T07:00","p":2.220,"s":1380}]},
 "mark":{"type":"point","shape":"circle","filled":true,"fill":"#f05a6a","fillOpacity":0.22,"stroke":"#ee1111","strokeWidth":1.3,"strokeOpacity":1,"opacity":1},
 "encoding":{"x":{"field":"d","type":"temporal"},"y":{"field":"p","type":"quantitative"},"size":{"field":"s","type":"quantitative","scale":null,"legend":null}}},
{"data":{"values":[{"d1":"2025-10-19T19:00","p1":2.526,"d2":"2025-10-22T05:00","p2":2.616}]},
 "mark":{"type":"rule","stroke":"#555555","strokeWidth":1},
 "encoding":{"x":{"field":"d1","type":"temporal"},"x2":{"field":"d2"},"y":{"field":"p1","type":"quantitative"},"y2":{"field":"p2"}}},
{"data":{"values":[{"d":"2025-10-22T05:00","p":2.616}]},
 "mark":{"type":"point","shape":"triangle-up","filled":true,"fill":"#000000","size":40,"angle":28,"opacity":1},
 "encoding":{"x":{"field":"d","type":"temporal"},"y":{"field":"p","type":"quantitative"}}},
{"data":{"values":[{"d1":"2025-10-27T05:00","d2":"2025-12-05T17:00","p1":1.777,"p2":1.507}]},
 "mark":{"type":"rect","fill":"#24b14c"},
 "encoding":{"x":{"field":"d1","type":"temporal"},"x2":{"field":"d2"},"y":{"field":"p1","type":"quantitative"},"y2":{"field":"p2"}}},
{"data":{"values":[{"d":"2025-11-02T17:00","p":1.641}]},
 "mark":{"type":"point","shape":"M0,-1L0.95,0L0.36,0L0.36,1L-0.36,1L-0.36,0L-0.95,0Z","filled":true,"fill":"#ffffff","size":380,"opacity":1,"strokeWidth":0},
 "encoding":{"x":{"field":"d","type":"temporal"},"y":{"field":"p","type":"quantitative"}}},
{"data":{"values":[{"d":"2025-11-18T14:00","p":1.643,"t":"LONG"}]},
 "mark":{"type":"text","fontSize":22,"fontWeight":"bold","fill":"#ffffff","baseline":"middle","align":"center"},
 "encoding":{"x":{"field":"d","type":"temporal"},"y":{"field":"p","type":"quantitative"},"text":{"field":"t"}}},
{"data":{"values":[{"d1":"2025-12-19T02:00","d2":"2026-01-08T07:00","p1":3.832,"p2":3.448}]},
 "mark":{"type":"rect","fill":"#ef2a2d"},
 "encoding":{"x":{"field":"d1","type":"temporal"},"x2":{"field":"d2"},"y":{"field":"p1","type":"quantitative"},"y2":{"field":"p2"}}},
{"data":{"values":[{"d":"2025-12-29T05:00","p":3.658,"t":"FxPro"}]},
 "mark":{"type":"text","font":"Liberation Serif","fontSize":18,"fill":"#ffffff","baseline":"middle","align":"center"},
 "encoding":{"x":{"field":"d","type":"temporal"},"y":{"field":"p","type":"quantitative"},"text":{"field":"t"}}},
{"data":{"values":[{"d":"2025-12-29T05:00","p":3.588,"t":"Trade Like a Pro"}]},
 "mark":{"type":"text","fontSize":6.2,"fill":"#ffffff","baseline":"middle","align":"center"},
 "encoding":{"x":{"field":"d","type":"temporal"},"y":{"field":"p","type":"quantitative"},"text":{"field":"t"}}},
{"data":{"values":[{"d":"2025-03-06T19:12","p":3.792,"t":"XRP - 1 day"}]},
 "mark":{"type":"text","fontSize":7,"fontWeight":"bold","fill":"#222222","baseline":"middle","align":"left"},
 "encoding":{"x":{"field":"d","type":"temporal"},"y":{"field":"p","type":"quantitative"},"text":{"field":"t"}}},
{"data":{"values":[{"d":"2025-03-17T01:30","p":3.738,"t":"BB(20,20,2.0,2.0)"}]},
 "mark":{"type":"text","fontSize":5.8,"fill":"#5a9e9e","baseline":"middle","align":"left"},
 "encoding":{"x":{"field":"d","type":"temporal"},"y":{"field":"p","type":"quantitative"},"text":{"field":"t"}}},
{"data":{"values":[{"d1":"2026-01-10T19:00","d2":"2026-01-18T06:00","p1":2.578,"p2":2.526,"pc":2.552,"t":"2.6436"},{"d1":"2026-01-10T19:00","d2":"2026-01-18T06:00","p1":2.535,"p2":2.481,"pc":2.508,"t":"2.5157"},{"d1":"2026-01-10T19:00","d2":"2026-01-18T06:00","p1":2.372,"p2":2.318,"pc":2.3448,"t":"2.3448"}]},
 "layer":[
  {"mark":{"type":"rect","strokeWidth":0.7},
   "encoding":{"x":{"field":"d1","type":"temporal"},"x2":{"field":"d2"},"y":{"field":"p1","type":"quantitative"},"y2":{"field":"p2"},
    "fill":{"condition":[{"test":"datum.t == '2.3448'","value":"#f5c4cb"},{"test":"datum.t == '2.6436'","value":"#d3ebf3"}],"value":"#ffffff"},
    "stroke":{"condition":[{"test":"datum.t == '2.3448'","value":"#d9707c"},{"test":"datum.t == '2.6436'","value":"#7fb2c4"}],"value":"#333333"}}},
  {"mark":{"type":"text","fontSize":6.3,"fill":"#222222","baseline":"middle","align":"left","dx":2},
   "encoding":{"x":{"field":"d1","type":"temporal"},"y":{"field":"pc","type":"quantitative"},"text":{"field":"t"}}}
 ]}
]
}
